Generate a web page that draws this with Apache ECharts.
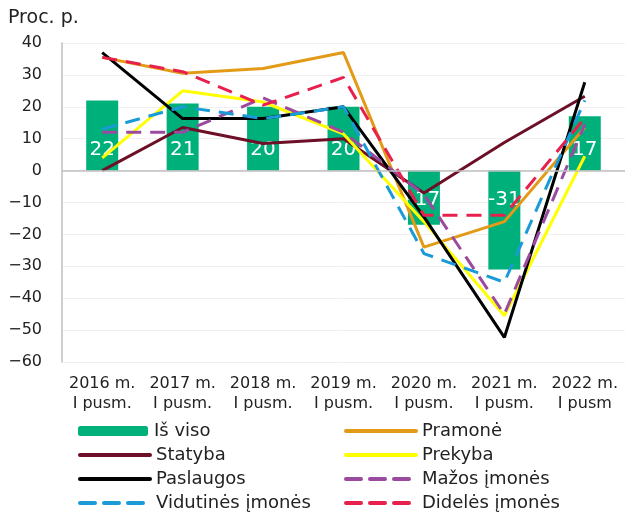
<!DOCTYPE html>
<html>
<head>
<meta charset="utf-8">
<script src="https://cdn.jsdelivr.net/npm/echarts@6/dist/echarts.min.js"></script>
<style>
html, body { margin: 0; padding: 0; background: #fff; }
#main { width: 625px; height: 515px; }
</style>
</head>
<body>
<div id="main"></div>
<script>
// kategorijos (pusmečiai)
var categories = ['2016 m.\nI pusm.', '2017 m.\nI pusm.', '2018 m.\nI pusm.', '2019 m.\nI pusm.',
  '2020 m.\nI pusm.', '2021 m.\nI pusm.', '2022 m.\nI pusm'];

// reikšmės, proc. p.
var isViso     = [22, 21, 20, 20, -17, -31, 17];
var pramone    = [35.5, 30.5, 32, 37, -24, -16, 13.5];
var statyba    = [0, 13.5, 8.5, 10, -7, 8.8, 23.3];
var prekyba    = [4, 25, 21.5, 11.5, -16, -45.5, 4.5];
var paslaugos  = [37, 16.3, 16.3, 20, -14.5, -52.3, 27.7];
var mazos      = [12, 12, 22.8, 12, -7.5, -45, 14.5];
var vidutines  = [13, 20, 16.3, 20, -26, -35, 22];
var dideles    = [35.5, 31, 20.5, 29.2, -14, -14, 16.5];

var yTicks = { min: -60, max: 40, step: 10 };

// legendos tvarka: kairė ir dešinė skiltys
var legendLeft  = ['Iš viso', 'Statyba', 'Paslaugos', 'Vidutinės įmonės'];
var legendRight = ['Pramonė', 'Prekyba', 'Mažos įmonės', 'Didelės įmonės'];

var font = 'DejaVu Sans';
var dash = [15, 9];

function lineSeries(name, data, color, dashed) {
  return {
    name: name,
    type: 'line',
    data: data,
    symbol: 'none',
    z: 3,
    lineStyle: { color: color, width: 3, type: dashed ? dash : 'solid' },
    itemStyle: { color: color }
  };
}

var barData = isViso.map(function (v) {
  return {
    value: v,
    label: v >= 0 ? { position: 'insideBottom', distance: 11 } : { position: 'insideTop', distance: 19 }
  };
});

// po viena legenda kiekvienam elementui, kad skiltys sutaptų
var rowY = [431, 455, 479, 503];
function makeLegend(name, x, row) {
  var item = name === 'Iš viso' ? { name: name } : { name: name, itemStyle: { opacity: 0 } };
  return {
    left: x, top: rowY[row] - 10,
    padding: 0,
    itemWidth: 70, itemHeight: 10,
    lineStyle: { width: 4, cap: 'round' },
    textStyle: { fontFamily: font, fontSize: 18, color: '#222', lineHeight: 20, padding: [0, 0, 0, 1] },
    data: [item]
  };
}
var legends = [];
legendLeft.forEach(function (n, i) { legends.push(makeLegend(n, 78, i)); });
legendRight.forEach(function (n, i) { legends.push(makeLegend(n, 344, i)); });

var myChart = echarts.init(document.getElementById('main'));
var option = {
  animation: false,
  textStyle: { fontFamily: font },
  title: {
    text: 'Proc. p.',
    left: 3, top: 4,
    textStyle: { fontFamily: font, fontSize: 19, fontWeight: 'normal', color: '#222' }
  },
  grid: { left: 62, top: 43, width: 568, height: 319 },
  legend: legends,
  xAxis: {
    type: 'category',
    data: categories,
    axisLine: { onZero: false, show: false },
    axisTick: { show: false },
    axisLabel: { fontFamily: font, fontSize: 16, color: '#222', lineHeight: 20, margin: 12, interval: 0 }
  },
  yAxis: {
    type: 'value',
    min: yTicks.min, max: yTicks.max, interval: yTicks.step,
    axisLine: { show: true, lineStyle: { color: '#bfbfbf', width: 1.5 } },
    axisTick: { show: false },
    splitLine: { lineStyle: { color: '#f0f0f0', width: 1 } },
    axisLabel: {
      fontFamily: font, fontSize: 16, color: '#222', margin: 20,
      formatter: function (v) { return String(v).replace('-', '\u2212'); }
    }
  },
  series: [
    {
      name: 'Iš viso',
      type: 'bar',
      data: barData,
      barWidth: 32,
      z: 2,
      itemStyle: { color: '#00b07b' },
      label: { show: true, color: '#fff', fontFamily: font, fontSize: 20 },
      markLine: {
        silent: true, symbol: 'none', label: { show: false },
        lineStyle: { color: '#bfbfbf', type: 'solid', width: 1.5 },
        data: [{ yAxis: 0 }]
      }
    },
    lineSeries('Pramonė', pramone, '#e39b17', false),
    lineSeries('Statyba', statyba, '#6d0f27', false),
    lineSeries('Prekyba', prekyba, '#ffff00', false),
    lineSeries('Paslaugos', paslaugos, '#000000', false),
    lineSeries('Mažos įmonės', mazos, '#9b4a9f', true),
    lineSeries('Vidutinės įmonės', vidutines, '#1a9bd8', true),
    lineSeries('Didelės įmonės', dideles, '#e8204d', true)
  ]
};
myChart.setOption(option);
</script>
</body>
</html>
